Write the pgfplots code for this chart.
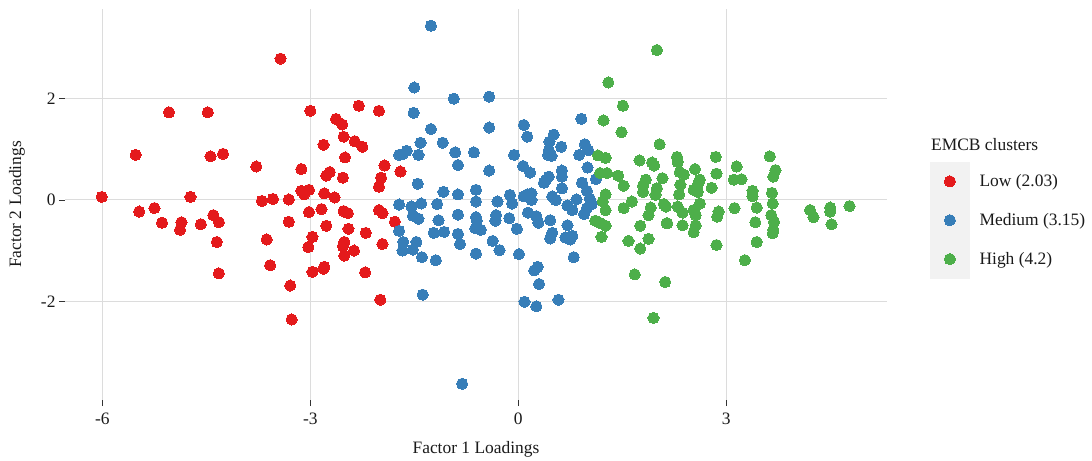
\documentclass[border=0pt]{standalone}
\usepackage{fontspec}
\setmainfont{Liberation Serif}
\usepackage{pgfplots}
\pgfplotsset{compat=1.18}
\definecolor{cRed}{HTML}{E41A1C}
\definecolor{cBlue}{HTML}{377EB8}
\definecolor{cGreen}{HTML}{4DAF4A}
\definecolor{legbg}{HTML}{F2F2F2}
\definecolor{gridc}{HTML}{DCDCDC}
\definecolor{txt}{HTML}{1A1A1A}
\newcommand\myfont{\fontsize{17.5}{21}\selectfont}
\pgfplotsset{
  pts/.style={only marks, mark=*, mark size=5.6bp, color=#1,
    mark options={draw=#1, fill=#1, line width=0pt},
    legend image code/.code={
      \fill[legbg] (0bp,-19.25bp) rectangle (39bp,19.25bp);
      \draw[##1] plot coordinates {(19.5bp,0bp)};
    }},
}
\begin{document}
\begin{tikzpicture}
\useasboundingbox (0,0) rectangle (1092bp,461bp);
\begin{axis}[
  scale only axis, width=822bp, height=391bp,
  at={(65bp,61bp)}, anchor=south west,
  xmin=-6.54, xmax=5.32, ymin=-3.95, ymax=3.77,
  xtick={-6,-3,0,3}, xticklabels={-6,-3,0,3},
  ytick={-2,0,2}, yticklabels={-2,0,2},
  axis line style={draw=none},
  tick pos=left, tick align=outside, major tick length=6bp,
  tick style={draw=black!80, line width=0.8bp},
  grid=major, major grid style={draw=gridc, line width=1bp},
  every tick label/.append style={font=\myfont, text=txt},
  xticklabel style={yshift=-3bp},
  xlabel={Factor 1 Loadings}, ylabel={Factor 2 Loadings},
  every axis x label/.style={at={(axis description cs:0.5,-0.1253)}, anchor=center, font=\myfont, text=txt},
  every axis y label/.style={at={(axis description cs:-0.0584,0.5)}, anchor=center, rotate=90, font=\myfont, text=txt},
  legend style={at={(1.0523,0.6095)}, anchor=north west, draw=none, fill=none,
    inner sep=0pt, row sep=0pt, column sep=10bp, font=\myfont, text=txt,
    nodes={inner sep=0pt}},
  legend cell align=left,
  clip=false,
]
\addplot[pts=cRed] table {
x y
-6.01 0.06
-5.52 0.89
-5.04 1.73
-4.48 1.73
-4.44 0.86
-4.26 0.91
-3.78 0.66
-4.73 0.06
-3.70 -0.02
-3.54 0.02
-3.31 0.01
-5.47 -0.23
-5.25 -0.16
-5.14 -0.45
-4.86 -0.44
-4.88 -0.59
-4.58 -0.48
-4.40 -0.30
-4.32 -0.44
-4.35 -0.83
-4.32 -1.45
-3.63 -0.78
-3.58 -1.29
-3.43 2.79
-3.00 1.76
-2.30 1.86
-2.01 1.76
-2.63 1.60
-2.54 1.49
-2.52 1.25
-2.81 1.09
-2.36 1.16
-2.25 1.05
-2.50 0.84
-1.93 0.68
-3.13 0.61
-2.72 0.55
-2.77 0.48
-2.53 0.44
-1.70 0.56
-1.98 0.44
-2.01 0.26
-3.13 0.18
-3.02 0.20
-3.09 0.11
-2.80 0.13
-2.65 0.05
-3.02 -0.24
-2.84 -0.18
-2.52 -0.22
-2.46 -0.26
-2.01 -0.20
-1.96 -0.26
-1.78 -0.43
-3.31 -0.43
-2.77 -0.51
-2.97 -0.73
-3.03 -0.93
-2.45 -0.57
-2.20 -0.65
-2.51 -0.83
-2.53 -0.91
-2.37 -1.00
-2.51 -1.10
-1.96 -0.87
-2.97 -1.42
-2.80 -1.32
-2.81 -1.36
-2.21 -1.43
-3.29 -1.69
-1.99 -1.97
-3.27 -2.36
};
\addlegendentry{Low (2.03)}
\addplot[pts=cBlue] table {
x y
-1.72 -0.09
-1.54 -0.13
-1.40 -0.07
-1.17 -0.08
-0.87 -0.29
-1.52 -0.31
-1.44 -0.37
-1.15 -0.40
-1.72 -0.61
-1.22 -0.65
-1.07 -0.63
-0.87 -0.67
-0.84 -0.87
-1.66 -0.83
-1.47 -0.83
-1.67 -1.00
-1.52 -0.98
-1.39 -1.13
-1.19 -1.19
-1.38 -1.87
-0.81 -3.63
-1.26 3.44
-1.50 2.22
-0.93 2.00
-1.51 1.72
-1.26 1.40
-1.41 1.13
-1.09 1.13
-0.91 0.94
-0.87 0.69
-1.72 0.89
-1.61 0.97
-1.67 0.90
-1.44 0.89
-1.45 0.32
-1.08 0.16
-0.87 0.11
-0.42 2.04
-0.42 1.43
0.08 1.48
0.13 1.25
0.91 1.60
0.51 1.29
0.45 1.15
0.62 1.05
0.44 0.98
0.43 0.89
0.48 0.87
0.96 1.10
1.01 0.98
0.88 0.89
-0.64 0.94
-0.06 0.89
-0.42 0.58
0.07 0.67
0.17 0.54
0.63 0.58
0.63 0.46
0.40 0.40
0.44 0.46
0.37 0.34
1.00 0.64
1.12 0.41
0.92 0.34
0.63 0.23
0.99 0.18
1.03 0.03
0.84 0.01
0.71 -0.11
0.49 0.07
0.54 0.00
0.13 0.11
0.19 0.13
0.19 0.00
0.08 0.07
-0.12 0.10
-0.09 -0.07
-0.30 -0.03
-0.61 0.20
-0.61 -0.03
0.99 -0.16
1.06 -0.08
0.95 -0.28
0.78 -0.20
-0.61 -0.34
-0.60 -0.41
-0.62 -0.56
-0.54 -0.59
-0.61 -1.06
-0.37 -0.81
-0.27 -0.99
-0.32 -0.30
-0.33 -0.41
-0.13 -0.36
-0.02 -0.57
0.14 -0.25
0.26 -0.32
0.29 -0.45
0.46 -0.40
0.71 -0.50
0.49 -0.65
0.46 -0.76
0.68 -0.74
0.78 -0.71
0.75 -0.78
0.80 -1.13
0.01 -1.07
0.28 -1.32
0.23 -1.39
0.30 -1.66
0.09 -2.01
0.26 -2.10
0.58 -1.97
};
\addlegendentry{Medium (3.15)}
\addplot[pts=cGreen] table {
x y
2.00 2.96
1.30 2.32
1.51 1.86
1.23 1.57
1.49 1.34
2.04 1.10
1.15 0.88
1.26 0.83
1.75 0.78
1.93 0.74
1.96 0.68
1.18 0.53
1.28 0.53
1.44 0.48
1.52 0.28
1.84 0.40
1.80 0.28
1.80 0.16
2.00 0.23
2.08 0.43
1.98 0.10
1.64 -0.03
1.26 0.11
1.22 -0.03
2.10 -0.08
1.26 -0.20
1.11 -0.41
1.19 -0.46
1.26 -0.51
1.20 -0.73
1.52 -0.16
1.91 -0.15
1.88 -0.30
1.76 -0.51
1.59 -0.81
1.76 -0.96
1.88 -0.77
1.68 -1.47
2.12 -1.62
1.95 -2.33
2.14 -0.46
2.29 0.85
2.30 0.75
2.33 0.55
2.39 0.50
2.55 0.61
2.85 0.85
2.86 0.52
2.62 0.40
2.59 0.30
2.53 0.20
2.59 0.16
2.79 0.24
2.34 0.30
2.32 0.11
3.15 0.66
3.11 0.40
3.22 0.41
3.38 0.18
3.38 0.07
3.63 0.86
3.71 0.59
3.68 0.46
3.66 0.14
3.67 -0.07
2.62 -0.07
2.30 -0.13
2.15 -0.46
2.37 -0.25
2.37 -0.50
2.53 -0.20
2.56 -0.30
2.56 -0.50
2.53 -0.64
2.89 -0.23
2.87 -0.33
2.86 -0.89
3.12 -0.16
3.27 -1.19
3.44 -0.15
3.42 -0.44
3.44 -0.83
3.65 -0.30
3.69 -0.43
3.67 -0.66
3.68 -0.59
4.21 -0.20
4.26 -0.34
4.50 -0.15
4.50 -0.23
4.52 -0.48
4.78 -0.12
2.13 -0.13
};
\addlegendentry{High (4.2)}
\end{axis}
\node[anchor=west, font=\myfont, text=txt, inner sep=0pt] at (931bp,316bp) {EMCB clusters};
\end{tikzpicture}
\end{document}
